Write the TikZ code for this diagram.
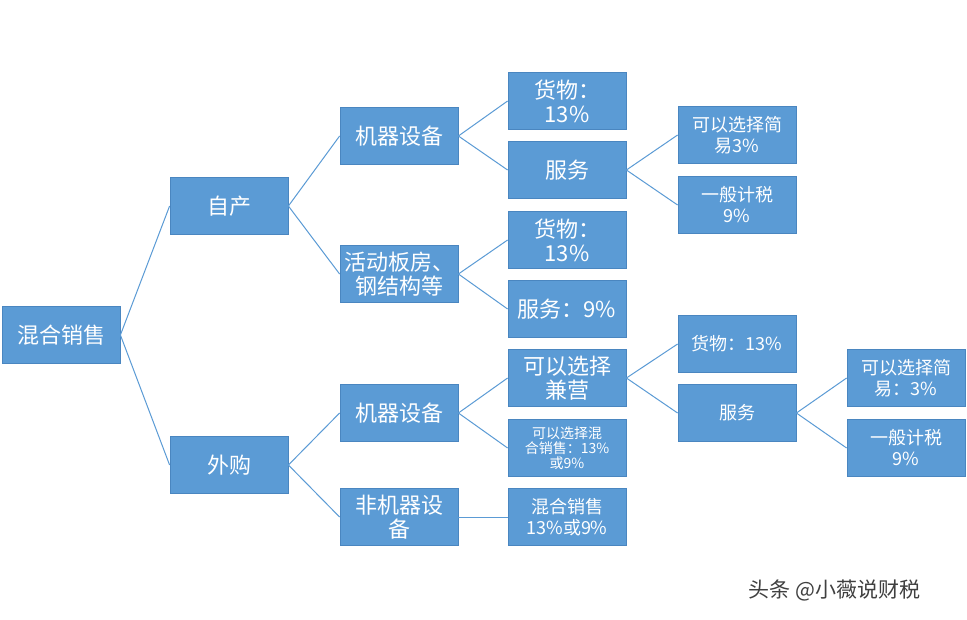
\documentclass[tikz,border=0pt]{standalone}
\usepackage{fontspec}
\setmainfont{Noto Sans CJK SC}
\definecolor{boxblue}{HTML}{5B9BD5}
\definecolor{boxedge}{HTML}{4A86C0}
\tikzset{
  box/.style={draw=boxedge,fill=boxblue,text=white,minimum width=118pt,minimum height=57pt,inner sep=0pt,align=center,font=\fontsize{22}{24}\selectfont,line width=0.8pt},
  smallbox/.style={box,font=\fontsize{18}{21}\selectfont},
  tinybox/.style={box,font=\fontsize{14}{15}\selectfont},
  link/.style={draw=boxblue,line width=1pt}
}
\begin{document}
\begin{tikzpicture}[x=1pt,y=-1pt]
\fill[white] (0,0) rectangle (967,619);
% Level 0 and 1
\node[box] (mix) at (61,335) {混合销售};
\node[box] (self) at (229,206) {自产};
\node[box] (buy) at (229,465) {外购};
% Level 2
\node[box] (mach1) at (399,136) {机器设备};
\node[box] (board) at (399,274) {活动板房、\\钢结构等};
\node[box] (mach2) at (399,413) {机器设备};
\node[box] (nonmach) at (399,517) {非机器设\\备};
% Level 3
\node[box] (goods1) at (567,101) {货物：\\13\%};
\node[box] (serv1) at (567,170) {服务};
\node[box] (goods2) at (567,240) {货物：\\13\%};
\node[box] (serv2) at (567,309) {服务：9\%};
\node[box] (part) at (567,378) {可以选择\\兼营};
\node[tinybox] (mixopt) at (567,448) {可以选择混\\合销售：13\%\\或9\%};
\node[smallbox] (mixrate) at (567,517) {混合销售\\13\%或9\%};
% Level 4
\node[smallbox] (simp1) at (737,135) {可以选择简\\易3\%};
\node[smallbox] (gen1) at (737,205) {一般计税\\9\%};
\node[smallbox] (goods3) at (737,344) {货物：13\%};
\node[smallbox] (serv3) at (737,413) {服务};
% Level 5
\node[smallbox] (simp2) at (906,378) {可以选择简\\易：3\%};
\node[smallbox] (gen2) at (906,448) {一般计税\\9\%};
% Connectors
\foreach \a/\b in {mix/self,mix/buy,self/mach1,self/board,buy/mach2,buy/nonmach,
  mach1/goods1,mach1/serv1,board/goods2,board/serv2,mach2/part,mach2/mixopt,nonmach/mixrate,
  serv1/simp1,serv1/gen1,part/goods3,part/serv3,serv3/simp2,serv3/gen2}
  \draw[link] (\a.east) -- (\b.west);
% Watermark
\node[text=black!75,font=\fontsize{21}{23}\selectfont,anchor=west] (mark) at (745,590) {头条 @小薇说财税};
\end{tikzpicture}
\end{document}
